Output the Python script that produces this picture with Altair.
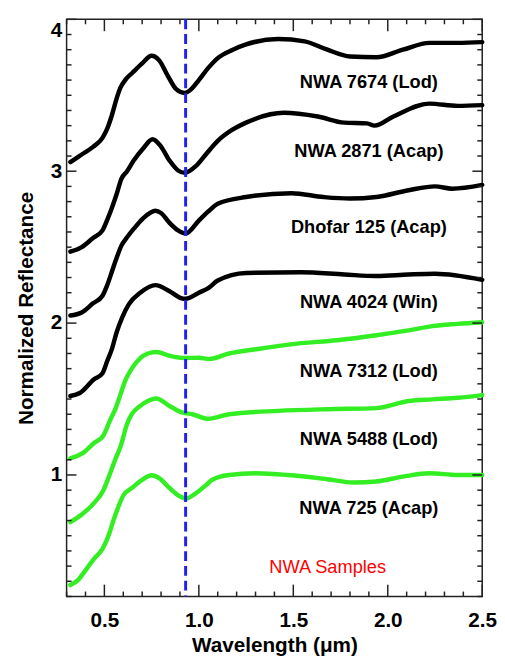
import altair as alt
import pandas as pd

# ---------------- data ----------------
names = ["NWA 7674 (Lod)", "NWA 2871 (Acap)", "Dhofar 125 (Acap)", "NWA 4024 (Win)",
         "NWA 7312 (Lod)", "NWA 5488 (Lod)", "NWA 725 (Acap)"]
colors = ["#000000", "#000000", "#000000", "#000000", "#33ee22", "#33ee22", "#33ee22"]

wl_7674 = [0.32, 0.38, 0.44, 0.49, 0.515, 0.54, 0.565, 0.585, 0.61, 0.65, 0.70, 0.75, 0.79, 0.835, 0.88,
           0.925, 0.96, 1.0, 1.05, 1.1, 1.18, 1.25, 1.42, 1.56, 1.68, 1.80, 1.94, 2.08, 2.22, 2.37, 2.50]
r_7674 = [3.06, 3.11, 3.16, 3.22, 3.28, 3.37, 3.48, 3.55, 3.60, 3.65, 3.71, 3.76, 3.73, 3.63, 3.54,
          3.515, 3.54, 3.60, 3.68, 3.745, 3.80, 3.835, 3.87, 3.855, 3.80, 3.755, 3.75, 3.80, 3.845, 3.845, 3.85]

wl_2871 = [0.32, 0.38, 0.44, 0.49, 0.515, 0.54, 0.565, 0.59, 0.62, 0.655, 0.705, 0.755, 0.795, 0.845, 0.89,
           0.925, 0.985, 1.03, 1.1, 1.18, 1.25, 1.45, 1.63, 1.77, 1.89, 1.93, 2.03, 2.22, 2.37, 2.50]
r_2871 = [2.47, 2.50, 2.56, 2.61, 2.68, 2.76, 2.85, 2.95, 3.00, 3.07, 3.15, 3.21, 3.17, 3.07, 3.005,
          2.99, 3.035, 3.10, 3.20, 3.275, 3.32, 3.385, 3.36, 3.32, 3.315, 3.30, 3.36, 3.445, 3.43, 3.435]

wl_d125 = [0.32, 0.38, 0.44, 0.49, 0.515, 0.54, 0.565, 0.59, 0.62, 0.655, 0.705, 0.77, 0.80, 0.845, 0.89,
           0.93, 1.0, 1.05, 1.1, 1.25, 1.49, 1.66, 1.80, 1.94, 2.11, 2.25, 2.34, 2.50]
r_d125 = [2.05, 2.07, 2.13, 2.18, 2.25, 2.34, 2.43, 2.51, 2.565, 2.62, 2.69, 2.74, 2.725, 2.66, 2.61,
          2.59, 2.675, 2.735, 2.785, 2.83, 2.855, 2.83, 2.82, 2.83, 2.875, 2.90, 2.885, 2.91]

wl_4024 = [0.32, 0.37, 0.445, 0.49, 0.515, 0.54, 0.565, 0.595, 0.63, 0.69, 0.77, 0.845, 0.905, 0.93,
           1.0, 1.05, 1.1, 1.25, 1.54, 1.77, 1.94, 2.11, 2.25, 2.50]
r_4024 = [1.52, 1.54, 1.63, 1.67, 1.75, 1.83, 1.94, 2.04, 2.125, 2.20, 2.25, 2.21, 2.165, 2.16,
          2.20, 2.23, 2.28, 2.33, 2.335, 2.32, 2.31, 2.32, 2.325, 2.285]

wl_7312 = [0.32, 0.38, 0.445, 0.495, 0.53, 0.56, 0.585, 0.61, 0.645, 0.69, 0.73, 0.775, 0.845, 0.925,
           1.0, 1.055, 1.16, 1.33, 1.52, 1.73, 1.94, 2.11, 2.235, 2.37, 2.50]
r_7312 = [1.11, 1.14, 1.21, 1.26, 1.36, 1.44, 1.53, 1.62, 1.70, 1.77, 1.80, 1.81, 1.785, 1.77,
          1.772, 1.764, 1.80, 1.833, 1.865, 1.887, 1.92, 1.952, 1.98, 1.995, 2.006]

wl_5488 = [0.32, 0.38, 0.445, 0.495, 0.53, 0.56, 0.585, 0.62, 0.645, 0.69, 0.73, 0.775, 0.845, 0.915,
           0.965, 1.05, 1.16, 1.42, 1.68, 1.94, 2.11, 2.235, 2.37, 2.50]
r_5488 = [0.69, 0.74, 0.815, 0.90, 1.01, 1.11, 1.185, 1.335, 1.40, 1.455, 1.487, 1.504, 1.454, 1.41,
          1.40, 1.37, 1.40, 1.422, 1.433, 1.44, 1.487, 1.498, 1.508, 1.526]

wl_725 = [0.32, 0.36, 0.40, 0.445, 0.49, 0.525, 0.55, 0.575, 0.60, 0.645, 0.70, 0.75, 0.79, 0.845, 0.90,
          0.932, 0.985, 1.04, 1.07, 1.16, 1.30, 1.47, 1.68, 1.82, 1.94, 2.08, 2.22, 2.37, 2.50]
r_725 = [0.275, 0.308, 0.372, 0.448, 0.513, 0.611, 0.708, 0.794, 0.865, 0.914, 0.968, 0.998, 0.979, 0.914, 0.859,
         0.845, 0.881, 0.935, 0.968, 1.0, 1.011, 1.0, 0.972, 0.95, 0.957, 0.989, 1.011, 1.0, 1.0]

label_x = [1.90, 1.90, 1.90, 1.90, 1.90, 1.90, 1.90]
label_y = [3.585, 3.13, 2.633, 2.136, 1.681, 1.238, 0.784]

note_text = ["NWA Samples"]
note_x = [1.682]
note_y = [0.395]

band_center = [0.93]

x_major = [0.5, 1.0, 1.5, 2.0, 2.5]
x_minor = [0.3, 0.4, 0.6, 0.7, 0.8, 0.9, 1.1, 1.2, 1.3, 1.4, 1.6, 1.7, 1.8, 1.9, 2.1, 2.2, 2.3, 2.4]
y_major = [1, 2, 3, 4]
y_minor = [0.2, 0.3, 0.4, 0.5, 0.6, 0.7, 0.8, 0.9, 1.1, 1.2, 1.3, 1.4, 1.5, 1.6, 1.7, 1.8, 1.9,
           2.1, 2.2, 2.3, 2.4, 2.5, 2.6, 2.7, 2.8, 2.9, 3.1, 3.2, 3.3, 3.4, 3.5, 3.6, 3.7, 3.8, 3.9]

# ---------------- tables ----------------
series = [wl_7674, wl_2871, wl_d125, wl_4024, wl_7312, wl_5488, wl_725]
values = [r_7674, r_2871, r_d125, r_4024, r_7312, r_5488, r_725]
rows = []
for n, c, wl, rv in zip(names, colors, series, values):
    for w, v in zip(wl, rv):
        rows.append({"name": n, "color": c, "wl": w, "r": v})
df = pd.DataFrame(rows)
labels_df = pd.DataFrame({"text": names, "x": label_x, "y": label_y})
note_df = pd.DataFrame({"text": note_text, "x": note_x, "y": note_y})
band_df = pd.DataFrame({"x": band_center})

W, H = 422, 586
FONT = "Liberation Sans"
AX = "#222222"
xs = alt.Scale(domain=[0.3, 2.5], nice=False, zero=False)
ys = alt.Scale(domain=[0.2, 4.0], nice=False, zero=False)

lines = alt.Chart(df).mark_line(strokeWidth=4.5, interpolate="monotone", strokeCap="round").encode(
    x=alt.X("wl:Q", scale=xs, axis=alt.Axis(
        orient="bottom", values=x_major, format=".1f", ticks=False, tickSize=0, domain=False,
        grid=False, labelFlush=False, labelFont=FONT, labelFontSize=21, labelFontWeight="bold",
        labelColor="#000000", labelPadding=13, title="Wavelength (μm)",
        titleFont=FONT, titleFontSize=21, titleFontWeight="bold", titleColor="#000000",
        titlePadding=5)),
    y=alt.Y("r:Q", scale=ys, axis=alt.Axis(
        orient="left", values=y_major, format=".0f", ticks=False, tickSize=0, domain=False,
        grid=False, labelFlush=True, labelFont=FONT, labelFontSize=21, labelFontWeight="bold",
        labelColor="#000000", labelPadding=5, title="Normalized Reflectance",
        titleFont=FONT, titleFontSize=21, titleFontWeight="bold", titleColor="#000000",
        titlePadding=14)),
    color=alt.Color("color:N", scale=None),
    detail="name:N",
)


def xticks(vals, y0, y1):
    return alt.Chart(pd.DataFrame({"v": vals})).mark_rule(color=AX, strokeWidth=1.5).encode(
        x=alt.X("v:Q", scale=xs, axis=None), y=alt.value(y0), y2=alt.value(y1))


def yticks(vals, x0, x1):
    return alt.Chart(pd.DataFrame({"v": vals})).mark_rule(color=AX, strokeWidth=1.5).encode(
        y=alt.Y("v:Q", scale=ys, axis=None), x=alt.value(x0), x2=alt.value(x1))


tick_layers = [
    xticks(x_major, H, H - 12), xticks(x_minor, H, H - 5),
    xticks(x_major, 0, 12), xticks(x_minor, 0, 5),
    yticks(y_major, 0, 10), yticks(y_minor, 0, 5),
    yticks(y_major, W, W - 10), yticks(y_minor, W, W - 5),
]

band = alt.Chart(band_df).mark_rule(color="#2020f0", strokeWidth=3, strokeDash=[10, 5]).encode(
    x=alt.X("x:Q", scale=xs, axis=None)
)

texts = alt.Chart(labels_df).mark_text(font=FONT, fontSize=18.5, fontWeight="bold", color="#000000",
                                       align="center", baseline="middle").encode(
    x=alt.X("x:Q", scale=xs, axis=None),
    y=alt.Y("y:Q", scale=ys, axis=None),
    text="text:N",
)

note = alt.Chart(note_df).mark_text(font=FONT, fontSize=18.5, color="#ff0000",
                                    align="center", baseline="middle").encode(
    x=alt.X("x:Q", scale=xs, axis=None),
    y=alt.Y("y:Q", scale=ys, axis=None),
    text="text:N",
)

chart = alt.layer(lines, *tick_layers, band, texts, note).resolve_axis(
    x="independent", y="independent"
).properties(
    width=W, height=H,
    padding={"left": 7.5, "top": 4.5, "right": 0, "bottom": 0},
).configure_view(stroke=AX, strokeWidth=1.5)

chart.save("out.html", embed_options={"renderer": "svg", "actions": False})
